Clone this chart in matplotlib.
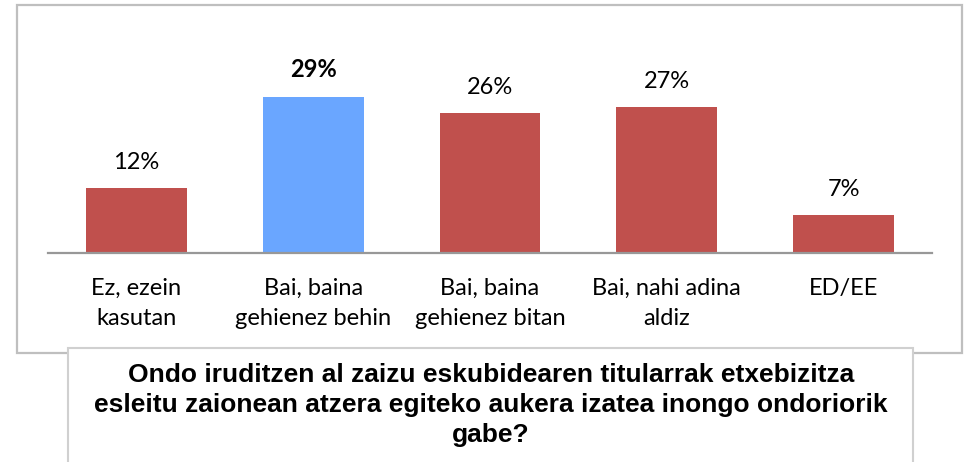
import matplotlib
matplotlib.use("Agg")
import matplotlib.pyplot as plt
from matplotlib.patches import Rectangle

categories = ["Ez, ezein\nkasutan", "Bai, baina\ngehienez behin", "Bai, baina\ngehienez bitan",
              "Bai, nahi adina\naldiz", "ED/EE"]
values = [12, 29, 26, 27, 7]
labels = ["12%", "29%", "26%", "27%", "7%"]
highlight = [False, True, False, False, False]
title = ("Ondo iruditzen al zaizu eskubidearen titularrak etxebizitza\n"
         "esleitu zaionean atzera egiteko aukera izatea inongo ondoriorik\n"
         "gabe?")

W, H = 968, 462
fig = plt.figure(figsize=(W / 100, H / 100), dpi=100)
fig.patch.set_facecolor("white")

def fx(x):
    return x / W

def fy(y):
    return 1 - y / H

# outer chart border
fig.patches.append(Rectangle((fx(17), fy(353)), fx(962 - 17), (353 - 5) / H,
                             transform=fig.transFigure, fill=False,
                             edgecolor="#bfbfbf", linewidth=1.6, zorder=0))

ax = fig.add_axes([fx(48), fy(253), fx(932 - 48), (253 - 25) / H])
ax.set_xlim(-0.5, len(values) - 0.5)
ax.set_ylim(0, 42.3)
colors = ["#6AA6FF" if h else "#C0504D" for h in highlight]
x = list(range(len(values)))
ax.bar(x, values, width=0.57, color=colors)
for xi, v, lab, h in zip(x, values, labels, highlight):
    ax.annotate(lab, (xi, v), xytext=(0, 11), textcoords="offset points",
                ha="center", va="bottom", fontsize=17, family="Lato",
                fontweight="bold" if h else "normal", color="black")
ax.set_xticks(x)
ax.set_xticklabels(categories, fontsize=17, family="Lato", linespacing=1.55)
ax.tick_params(axis="x", length=0, pad=18)
ax.set_yticks([])
for s in ["top", "right", "left"]:
    ax.spines[s].set_visible(False)
ax.spines["bottom"].set_color("#989898")
ax.spines["bottom"].set_linewidth(1.6)
ax.patch.set_alpha(0)

# title box
fig.patches.append(Rectangle((fx(68), fy(480)), fx(913 - 68), (480 - 348) / H,
                             transform=fig.transFigure, facecolor="white",
                             edgecolor="#d0d0d0", linewidth=1.5, zorder=5))
fig.text(fx(491), fy(405), title, ha="center", va="center", fontsize=19,
         fontweight="bold", family="Liberation Sans", linespacing=1.33, zorder=6)

fig.savefig("out.png", dpi=100)
